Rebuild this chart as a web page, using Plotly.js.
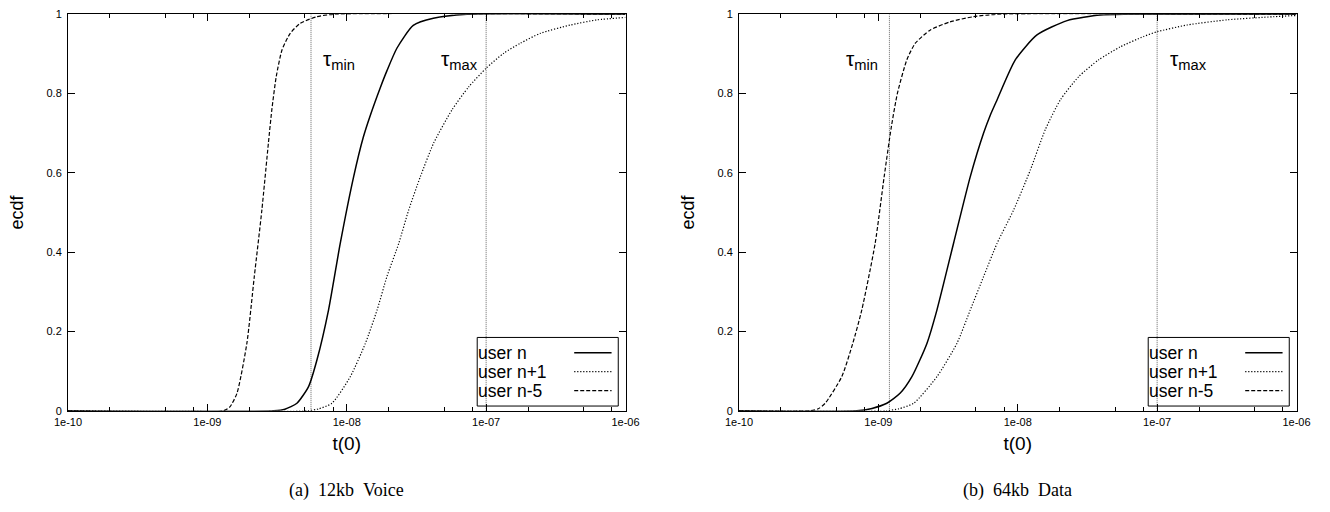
<!DOCTYPE html>
<html>
<head>
<meta charset="utf-8">
<script src="https://cdn.plot.ly/plotly-3.0.1.min.js"></script>
<style>html,body{margin:0;padding:0;background:#fff;}#chart{width:1330px;height:512px;}</style>
</head>
<body>
<div id="chart"></div>
<script>
// ---------- data ----------
const seriesNames = ['user n', 'user n+1', 'user n-5'];
const panelCaptions = ['(a) 12kb Voice', '(b) 64kb Data'];
const xTickVals = [1e-10, 1e-9, 1e-8, 1e-7, 1e-6];
const xTickText = ['1e-10', '1e-09', '1e-08', '1e-07', '1e-06'];
const yTickVals = [0, 0.2, 0.4, 0.6, 0.8, 1];
const yTickText = ['0', '0.2', '0.4', '0.6', '0.8', '1'];
const minorMultipliers = [2, 5, 8];

// (a) 12kb Voice
const voiceT_n   = [1e-10, 3.0e-9, 3.6e-9, 4.39e-9, 5.32e-9, 6.11e-9, 7.40e-9, 8.98e-9, 1.12e-8, 1.314e-8, 1.475e-8, 1.74e-8, 1.944e-8, 2.294e-8, 3.0e-8, 4.18e-8, 7.3e-8, 1e-6];
const voiceY_n   = [0, 0, 0.004, 0.019, 0.061, 0.128, 0.254, 0.422, 0.590, 0.69, 0.745, 0.815, 0.858, 0.915, 0.972, 0.99, 1.0, 1.0];
const voiceT_n1  = [1e-10, 5.2e-9, 6.3e-9, 7.83e-9, 1.06e-8, 1.36e-8, 1.65e-8, 1.94e-8, 2.36e-8, 2.78e-8, 3.37e-8, 4.2e-8, 5.69e-8, 7.5e-8, 1.0e-7, 1.34e-7, 1.76e-7, 2.45e-7, 4.03e-7, 6.26e-7, 1e-6];
const voiceY_n1  = [0, 0, 0.005, 0.019, 0.086, 0.170, 0.254, 0.338, 0.422, 0.506, 0.590, 0.675, 0.759, 0.817, 0.864, 0.902, 0.927, 0.952, 0.973, 0.986, 0.992];
const voiceT_n5  = [1e-10, 1.30e-9, 1.45e-9, 1.63e-9, 1.92e-9, 2.17e-9, 2.46e-9, 2.74e-9, 2.90e-9, 3.12e-9, 3.43e-9, 3.93e-9, 4.63e-9, 6.11e-9, 8.0e-9, 1e-6];
const voiceY_n5  = [0, 0, 0.01, 0.044, 0.170, 0.338, 0.506, 0.675, 0.759, 0.843, 0.91, 0.952, 0.977, 0.994, 1.0, 1.0];
const voiceTau   = [5.54e-9, 1.0e-7];

// (b) 64kb Data
const dataT_n    = [1e-10, 7.0e-10, 9.0e-10, 1.15e-9, 1.43e-9, 1.74e-9, 2.23e-9, 2.63e-9, 3.46e-9, 4.56e-9, 5.68e-9, 6.34e-9, 7.1e-9, 9.6e-9, 1.374e-8, 2.26e-8, 3.91e-8, 6.0e-8, 1e-6];
const dataY_n    = [0, 0, 0.006, 0.019, 0.044, 0.086, 0.170, 0.254, 0.422, 0.590, 0.70, 0.745, 0.784, 0.885, 0.948, 0.984, 0.998, 1.0, 1.0];
const dataT_n1   = [1e-10, 1.15e-9, 1.4e-9, 1.79e-9, 2.63e-9, 3.66e-9, 4.56e-9, 5.68e-9, 7.1e-9, 9.33e-9, 1.23e-8, 1.58e-8, 2.02e-8, 2.74e-8, 3.8e-8, 5.45e-8, 8.0e-8, 1e-7, 1.64e-7, 3.18e-7, 6.87e-7, 1e-6];
const dataY_n1   = [0, 0, 0.005, 0.019, 0.086, 0.170, 0.254, 0.338, 0.422, 0.506, 0.607, 0.710, 0.784, 0.843, 0.885, 0.918, 0.944, 0.956, 0.973, 0.986, 0.994, 0.997];
const dataT_n5   = [1e-10, 3.24e-10, 3.7e-10, 4.15e-10, 5.46e-10, 6.55e-10, 7.6e-10, 9.48e-10, 1.10e-9, 1.24e-9, 1.37e-9, 1.60e-9, 1.84e-9, 2.35e-9, 3.27e-9, 4.82e-9, 7.1e-9, 1e-6];
const dataY_n5   = [0, 0, 0.005, 0.019, 0.086, 0.170, 0.254, 0.422, 0.590, 0.717, 0.801, 0.885, 0.927, 0.960, 0.981, 0.994, 1.0, 1.0];
const dataTau    = [1.2e-9, 1.0e-7];

// ---------- drawing ----------
const W = 1330, H = 512;
const SANS = 'Liberation Sans, Arial, Helvetica, sans-serif';
const SERIF = 'Liberation Serif, Times New Roman, serif';
const styles = [
  {color: '#000', width: 1.5, dash: 'solid'},
  {color: '#000', width: 1.2, dash: '1.2px,1.8px'},
  {color: '#000', width: 1.2, dash: '4px,2px'}
];
const tauStyle = {color: '#666', width: 1, dash: '1px,1px'};

const minorVals = [];
for (let e = -10; e < -6; e++) minorMultipliers.forEach(m => minorVals.push(m * Math.pow(10, e)));

const panels = [
  {xa: 'x', ya: 'y', xs: [voiceT_n, voiceT_n1, voiceT_n5], ys: [voiceY_n, voiceY_n1, voiceY_n5], tau: voiceTau,
   xdom: [68 / W, 625.5 / W], tauShift: [[10, 'left'], [-6, 'right']]},
  {xa: 'x2', ya: 'y2', xs: [dataT_n, dataT_n1, dataT_n5], ys: [dataY_n, dataY_n1, dataY_n5], tau: dataTau,
   xdom: [739 / W, 1296.5 / W], tauShift: [[-9, 'right'], [11, 'left']]}
];
const ydom = [1 - 410.8 / H, 1 - 14.3 / H];

const traces = [];
const annotations = [];
const shapes = [];
const layout = {
  width: W, height: H,
  margin: {l: 0, r: 0, t: 0, b: 0},
  paper_bgcolor: '#fff', plot_bgcolor: '#fff',
  showlegend: false,
  font: {family: SANS, color: '#000'}
};

panels.forEach((p, i) => {
  const sfx = i === 0 ? '' : '2';
  const xref = p.xa, yref = p.ya;
  // tau vertical lines
  p.tau.forEach(t => {
    traces.push({x: [t, t], y: [0, 1], xaxis: xref, yaxis: yref, mode: 'lines',
      line: tauStyle, hoverinfo: 'skip', showlegend: false});
  });
  // series
  p.xs.forEach((xv, k) => {
    traces.push({x: xv, y: p.ys[k], xaxis: xref, yaxis: yref, mode: 'lines',
      name: seriesNames[k], line: Object.assign({shape: 'spline', smoothing: 0.6}, styles[k]), showlegend: false});
  });
  layout['xaxis' + sfx] = {
    type: 'log', range: [-10, -6], domain: p.xdom, anchor: yref,
    tickmode: 'array', tickvals: xTickVals, ticktext: xTickText,
    ticks: 'inside', ticklen: 7, tickwidth: 1, tickcolor: '#000',
    showline: true, linecolor: '#000', linewidth: 1, mirror: 'ticks',
    showgrid: false, zeroline: false, automargin: false,
    tickfont: {family: SANS, size: 11, color: '#000'}, ticklabelstandoff: 1,
    minor: {tickmode: 'array', tickvals: minorVals, ticks: 'inside', ticklen: 4, tickcolor: '#000', tickwidth: 1, showgrid: false},
    title: {text: 't(0)', font: {family: SANS, size: 19, color: '#000'}, standoff: 9}
  };
  layout['yaxis' + sfx] = {
    range: [0, 1], domain: ydom, anchor: xref,
    tickmode: 'array', tickvals: yTickVals, ticktext: yTickText,
    ticks: 'inside', ticklen: 7, tickwidth: 1, tickcolor: '#000',
    showline: true, linecolor: '#000', linewidth: 1, mirror: 'ticks',
    showgrid: false, zeroline: false, automargin: false,
    tickfont: {family: SANS, size: 11, color: '#000'}, ticklabelstandoff: 3,
    title: {text: 'ecdf', font: {family: SANS, size: 18, color: '#000'}, standoff: 18}
  };
  // tau labels
  const tauNames = ['min', 'max'];
  p.tau.forEach((t, j) => {
    annotations.push({xref: xref, yref: yref, x: Math.log10(t), y: 0.885,
      text: 'τ<sub>' + tauNames[j] + '</sub>', showarrow: false,
      xanchor: p.tauShift[j][1], yanchor: 'middle', xshift: p.tauShift[j][0],
      font: {family: SANS, size: 21, color: '#000'}});
  });
  // manual legend (text left, line sample right, as in the reference)
  const xd = xref + ' domain', yd = yref + ' domain';
  shapes.push({type: 'rect', xref: xd, yref: yd, x0: 0.734, x1: 0.987, y0: 0.012, y1: 0.185,
    line: {color: '#000', width: 1}, fillcolor: 'rgba(0,0,0,0)'});
  const rowY = [0.1465, 0.0986, 0.0507];
  seriesNames.forEach((nm, k) => {
    annotations.push({xref: xd, yref: yd, x: 0.733, y: rowY[k], text: nm, showarrow: false,
      xanchor: 'left', yanchor: 'middle', borderpad: 0, font: {family: SANS, size: 17.5, color: '#000'}});
    shapes.push({type: 'line', xref: xd, yref: yd, x0: 0.908, x1: 0.975, y0: rowY[k], y1: rowY[k],
      line: styles[k]});
  });
  // caption
  annotations.push({xref: 'paper', yref: 'paper', x: (p.xdom[0] + p.xdom[1]) / 2, y: 1 - 490 / H,
    text: panelCaptions[i].replace(/ /g, '\u2002'), showarrow: false, xanchor: 'center', yanchor: 'middle',
    font: {family: SERIF, size: 18, color: '#000'}});
});

layout.annotations = annotations;
layout.shapes = shapes;

Plotly.newPlot('chart', traces, layout, {displayModeBar: false, staticPlot: true});
</script>
</body>
</html>
